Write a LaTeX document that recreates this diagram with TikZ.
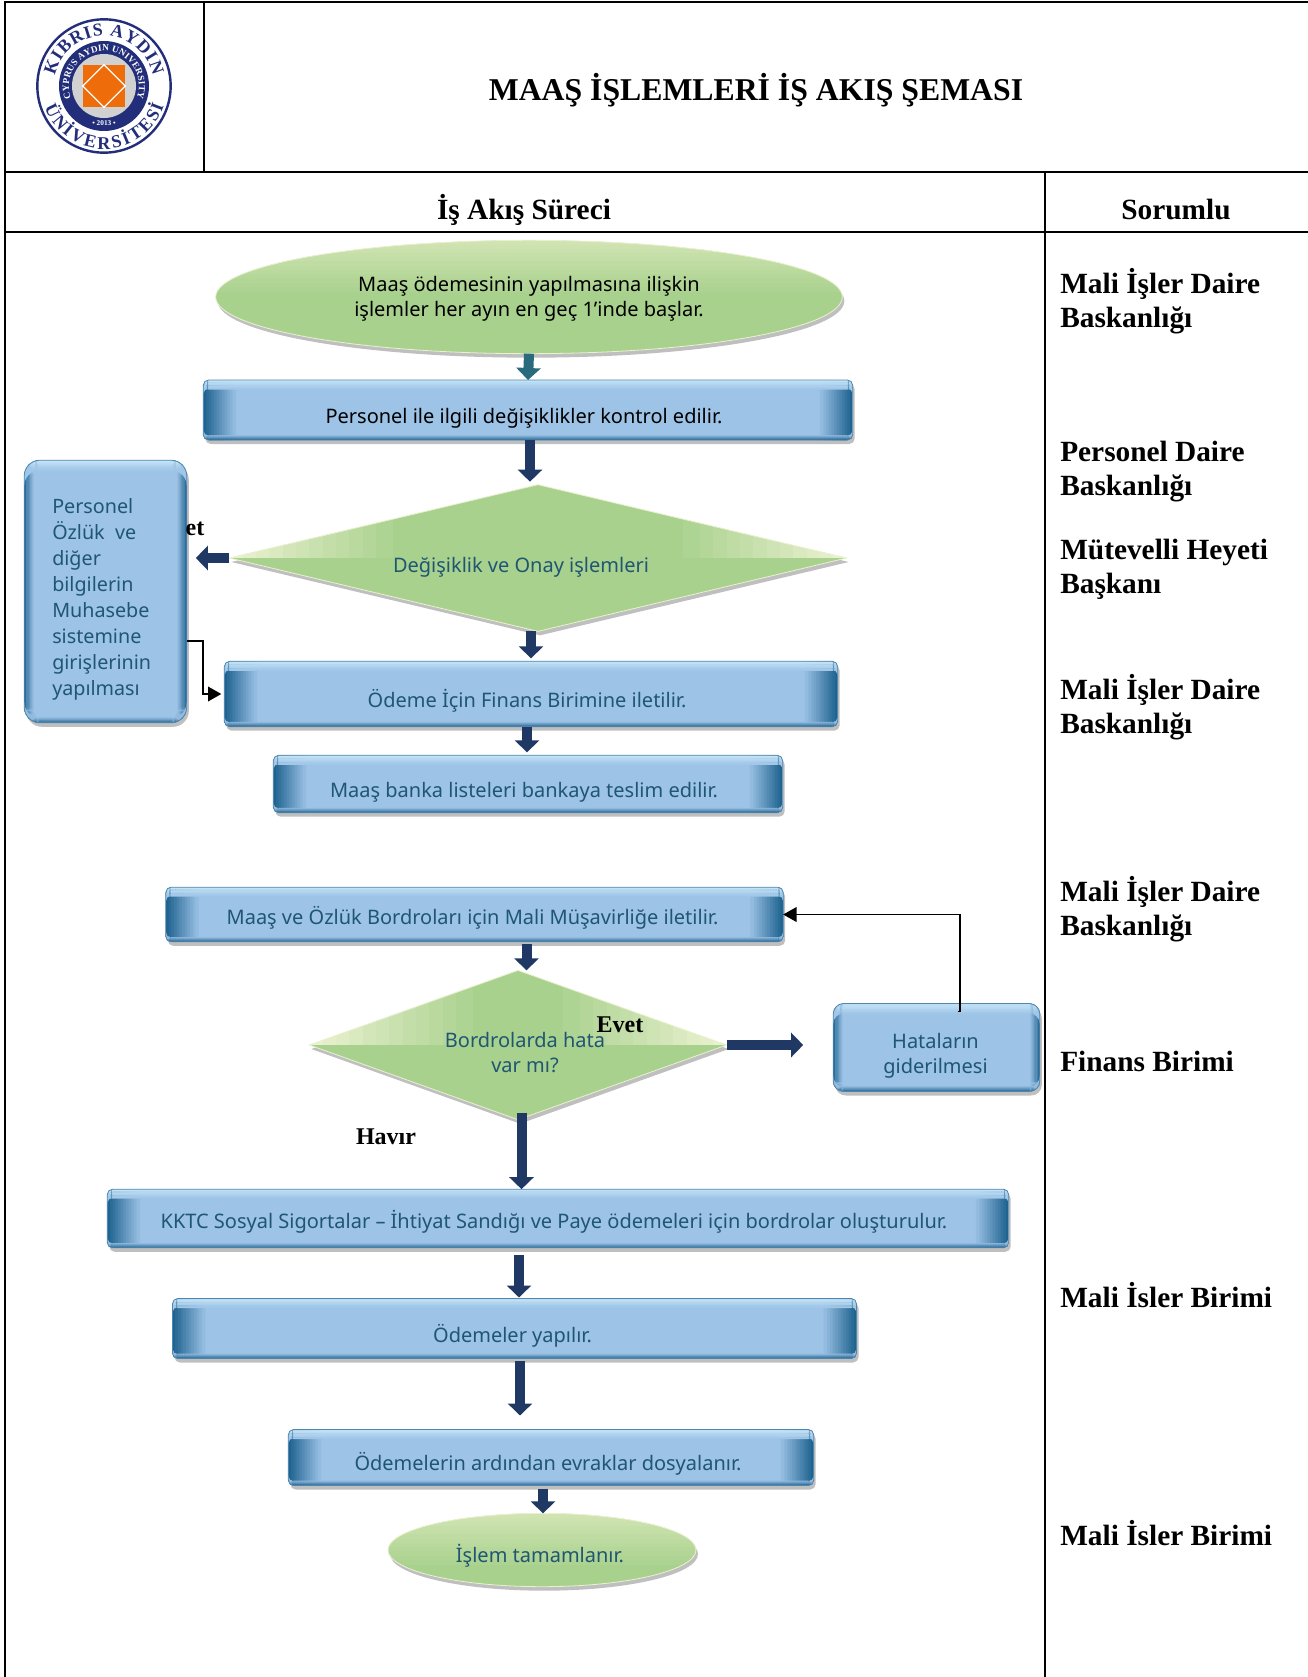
\documentclass[tikz,border=0pt]{standalone}
\usepackage{fontspec}
\setmainfont{Liberation Serif}
\newfontfamily\boxfont{Noto Sans}
\usetikzlibrary{shapes.geometric,arrows.meta,shadows,calc,decorations.text}
\definecolor{boxblue}{HTML}{9DC3E6}
\definecolor{boxdark}{HTML}{1F6390}
\definecolor{boxlight}{HTML}{C6E6F8}
\definecolor{boxline}{HTML}{4F86AE}
\definecolor{leaf}{HTML}{A9D18E}
\definecolor{leafmid}{HTML}{D0E4B2}
\definecolor{leaflight}{HTML}{EAF1CF}
\definecolor{navy}{HTML}{1F3864}
\definecolor{tealarrow}{HTML}{2A6A7D}
\definecolor{tealtext}{HTML}{1F5672}
\definecolor{logonavy}{HTML}{222E7A}
\definecolor{logoorange}{HTML}{EE6C0A}
\newcommand\tx[3]{\raisebox{\dimexpr -#2pt*3/4-5.7pt\relax}[0pt][0pt]{\makebox[0pt][c]{\hspace*{\dimexpr #1pt*3/2\relax}#3}}}
\newcommand\twolines[2]{\begin{tabular}{@{}c@{}}#1\\#2\end{tabular}}
% gradient stripes: from edge anchor A, towards the opposite anchor B, over a width
\newcommand\gradx[5]{\foreach \gi [evaluate=\gi as \gp using 100-100*\gi/12] in {0,...,11}{%
  \fill[#4!\gp!#5] ([xshift=#3*\gi/12]path picture bounding box.#1) rectangle ([xshift=#3*(\gi+1.3)/12]path picture bounding box.#2);}}
\newcommand\grady[5]{\foreach \gi [evaluate=\gi as \gp using 100-100*\gi/12] in {0,...,11}{%
  \fill[#4!\gp!#5] ([yshift=#3*\gi/12]path picture bounding box.#1) rectangle ([yshift=#3*(\gi+1.3)/12]path picture bounding box.#2);}}
\tikzset{
 x=0.75pt,y=-0.75pt,
 softshadow/.style={drop shadow={shadow xshift=1.5pt,shadow yshift=-3pt,opacity=.25,fill=black}},
 bluebox/.style={rectangle,rounded corners=4pt,inner sep=0pt,outer sep=0pt,fill=boxblue,draw=boxline,line width=.6pt,softshadow,
   text=tealtext,font=\boxfont\fontsize{15}{18.5}\selectfont,
   path picture={
    \gradx{south west}{north west}{24pt}{boxdark}{boxblue}
    \gradx{south east}{north east}{-24pt}{boxdark}{boxblue}
    \grady{north west}{north east}{-7pt}{boxlight}{boxblue}
    \grady{south west}{south east}{3.5pt}{boxdark}{boxblue}
   }},
 softbox/.style={bluebox,rounded corners=12pt,
   path picture={
    \gradx{south west}{north west}{7pt}{boxdark}{boxblue}
    \gradx{south east}{north east}{-7pt}{boxdark}{boxblue}
    \grady{north west}{north east}{-8pt}{boxlight}{boxblue}
    \grady{south west}{south east}{4pt}{boxdark}{boxblue}
   }},
 leafellipse/.style={ellipse,inner sep=0pt,outer sep=0pt,fill=leaf,draw=leaflight,line width=.6pt,softshadow,
   text=tealtext,font=\boxfont\fontsize{15}{18.5}\selectfont,
   path picture={
    \grady{north west}{north east}{-38pt}{leafmid}{leaf}
   }},
 leafdiamond/.style={diamond,inner sep=0pt,outer sep=0pt,fill=leaf,draw=leaflight,line width=.6pt,softshadow,
   text=tealtext,font=\boxfont\fontsize{15}{18.5}\selectfont,
   path picture={
    \gradx{west}{north west}{120pt}{leaflight}{leaf}
    \gradx{east}{north east}{-120pt}{leaflight}{leaf}
   }},
 fatarrow/.style={line width=7.5pt,color=navy,-{Triangle[width=18pt,length=9pt]}},
 thinarrow/.style={line width=1.1pt,color=black,-{Triangle[width=11pt,length=10pt]}},
 gridline/.style={line width=1.5pt,color=black},
 respons/.style={anchor=west,align=left,font=\bfseries\fontsize{22}{25.5}\selectfont,inner sep=0pt},
 header/.style={font=\bfseries\fontsize{22}{24}\selectfont,inner sep=0pt},
 note/.style={font=\bfseries\fontsize{18}{20}\selectfont,inner sep=0pt},
}
\begin{document}
\begin{tikzpicture}
\useasboundingbox (0,0) rectangle (1308,1677);
% grid
\coordinate (gTL) at (5,2);
\coordinate (gTR) at (1308,2);
\coordinate (gBL) at (5,1677);
\coordinate (gV1t) at (204,2);
\coordinate (gV1b) at (204,172);
\coordinate (gH1l) at (5,172);
\coordinate (gH1r) at (1308,172);
\coordinate (gH2l) at (5,232);
\coordinate (gH2r) at (1308,232);
\coordinate (gV2t) at (1045,172);
\coordinate (gV2b) at (1045,1677);
\draw[gridline] (gBL) -- (gTL) -- (gTR);
\draw[gridline] (gV1t) -- (gV1b);
\draw[gridline] (gH1l) -- (gH1r);
\draw[gridline] (gH2l) -- (gH2r);
\draw[gridline] (gV2t) -- (gV2b);
% logo
\node[circle,draw=logonavy,line width=1.8pt,fill=white,minimum size=100pt,inner sep=0pt] (logo) at (104,86) {};
\node[circle,fill=logonavy,minimum size=67.5pt,inner sep=0pt] (logoring) at (104,86) {};
\node[circle,fill=black!18,minimum size=48pt,inner sep=0pt] (logocore) at (104,86) {};
\node[rectangle,fill=logoorange,minimum size=31.5pt,inner sep=0pt] (logosq) at (104,86) {};
\draw[white,line width=1pt] (logosq.north) -- (logosq.east) -- (logosq.south) -- (logosq.west) -- cycle;
\path[decorate,decoration={text along path,text align=fit to path,text={|\bfseries\fontsize{13.5}{14}\selectfont\color{logonavy}|KIBRIS AYDIN}}]
  (104,86) ++(192:50) arc[start angle=192,end angle=348,radius=50];
\path[decorate,decoration={text along path,text align=fit to path,text={|\bfseries\fontsize{13.5}{14}\selectfont\color{logonavy}|ÜNİVERSİTESİ}}]
  (104,86) ++(160:63) arc[start angle=160,end angle=18,radius=63];
\path[decorate,decoration={text along path,text align=fit to path,text={|\bfseries\fontsize{7}{7}\selectfont\color{white}|CYPRUS AYDIN UNIVERSITY}}]
  (104,86) ++(160:35) arc[start angle=160,end angle=380,radius=35];
\node[text=white,font=\bfseries\fontsize{5.5}{6}\selectfont,inner sep=0pt] (logoyear) at (104,123.5) {• 2013 •};
% headers
\node[font=\bfseries\fontsize{23.8}{28}\selectfont,inner sep=0pt] (title) at (756,90) {MAAŞ İŞLEMLERİ İŞ AKIŞ ŞEMASI};
\node[header] (hproc) at (524,210) {İş Akış Süreci};
\node[header] (hresp) at (1176,210) {Sorumlu};
% flow
\node[leafellipse,minimum width=470pt,minimum height=85pt,text=black] (e1) at (529,297) {\tx{0}{-1}{\twolines{Maaş ödemesinin yapılmasına ilişkin}{işlemler her ayın en geç 1’inde başlar.}}};
\node[bluebox,minimum width=487pt,minimum height=45pt,text=black] (b2) at (528,410) {\tx{-4}{6}{Personel ile ilgili değişiklikler kontrol edilir.}};
\node[leafdiamond,minimum width=463pt,minimum height=110pt] (d1) at (538,558) {\tx{-17}{7}{Değişiklik ve Onay işlemleri}};
\node[bluebox,minimum width=460pt,minimum height=49pt] (b3) at (531,694) {\tx{-4}{6}{Ödeme İçin Finans Birimine iletilir.}};
\node[bluebox,minimum width=382pt,minimum height=43pt] (b4) at (528,784) {\tx{-4}{6}{Maaş banka listeleri bankaya teslim edilir.}};
\node[softbox,minimum width=122pt,minimum height=197pt] (left) at (105.5,591.5) {};
\node[text=tealtext,anchor=north west,align=left,inner sep=0pt,font=\boxfont\fontsize{14.8}{19.5}\selectfont] (lefttext) at (52,498) {Personel\\Özlük\ \ ve\\diğer\\bilgilerin\\Muhasebe\\sistemine\\girişlerinin\\yapılması};
\node[note] (et) at (195,529) {et};
\node[bluebox,minimum width=463pt,minimum height=41pt] (b5) at (474.5,914.5) {\tx{-2}{2}{Maaş ve Özlük Bordroları için Mali Müşavirliğe iletilir.}};
\node[leafdiamond,minimum width=313pt,minimum height=112pt] (d2) at (518,1045) {\tx{7}{7}{\twolines{Bordrolarda hata}{var mı?}}};
\node[note] (evet) at (620,1025) {Evet};
\node[note] (havir) at (386,1137) {Havır};
\node[softbox,rounded corners=8pt,minimum width=155pt,minimum height=66pt] (hata) at (936.5,1047.5) {\tx{-1}{5.5}{\twolines{Hataların}{giderilmesi}}};
\node[bluebox,minimum width=676pt,minimum height=44pt] (b6) at (558,1218.5) {\tx{-4}{2}{KKTC Sosyal Sigortalar – İhtiyat Sandığı ve Paye ödemeleri için bordrolar oluşturulur.}};
\node[bluebox,minimum width=513pt,minimum height=45pt] (b7) at (514.5,1328.5) {\tx{-2}{6}{Ödemeler yapılır.}};
\node[bluebox,minimum width=394pt,minimum height=42pt] (b8) at (551,1457.5) {\tx{-3}{5}{Ödemelerin ardından evraklar dosyalanır.}};
\node[leafellipse,minimum width=231pt,minimum height=55pt] (e2) at (542,1550) {\tx{-2}{5}{İşlem tamamlanır.}};
% fat connectors
\draw[fatarrow,color=tealarrow] (e1.south) -- (b2.north);
\draw[fatarrow] ($(b2.south)+(2,0)$) -- ($(d1.north)+(-8,-3)$);
\draw[fatarrow] ($(d1.south)+(-7,0)$) -- ($(b3.north)+(0,-3)$);
\draw[fatarrow] ($(b3.south)+(-4,0)$) -- ($(b4.north)+(-1,-3)$);
\draw[fatarrow] ($(b5.south)+(52,2)$) -- ($(d2.north)+(8.5,0)$);
\draw[fatarrow] ($(d2.south)+(3.5,-7)$) -- ($(b6.north)+(-36.5,0)$);
\draw[fatarrow] ($(b6.south)+(-39,7)$) -- ($(b7.north)+(4.5,-1)$);
\draw[fatarrow] ($(b7.south)+(5.5,2)$) -- ($(b8.north)+(-31,-14)$);
\draw[fatarrow] ($(b8.south)+(-8,3)$) -- ($(e2.north)+(1,0)$);
\draw[fatarrow] (d1.west) -- ($(left.east)+(9,-33.5)$);
\draw[fatarrow] (d2.east) -- ($(hata.west)+(-30,-2.5)$);
% thin connectors
\draw[thinarrow] ($(left.east)+(0,49.5)$) -| ($(left.east)+(16,102.5)$) -- ($(b3.west)+(-3,0)$);
\draw[thinarrow] ($(hata.north)+(21,8)$) -- ($(hata.north)+(23.5,8)$) |- (b5.east);
% responsibility column
\node[respons] (r1) at (1060,301) {Mali İşler Daire\\Baskanlığı};
\node[respons] (r2) at (1060,472) {Personel Daire\\Baskanlığı};
\node[respons] (r3) at (1060,569) {Mütevelli Heyeti\\Başkanı};
\node[respons] (r4) at (1060,707) {Mali İşler Daire\\Baskanlığı};
\node[respons] (r5) at (1060,909) {Mali İşler Daire\\Baskanlığı};
\node[respons] (r6) at (1060,1061) {Finans Birimi};
\node[respons] (r7) at (1060,1295) {Mali İsler Birimi};
\node[respons] (r8) at (1060,1533) {Mali İsler Birimi};
\end{tikzpicture}
\end{document}
